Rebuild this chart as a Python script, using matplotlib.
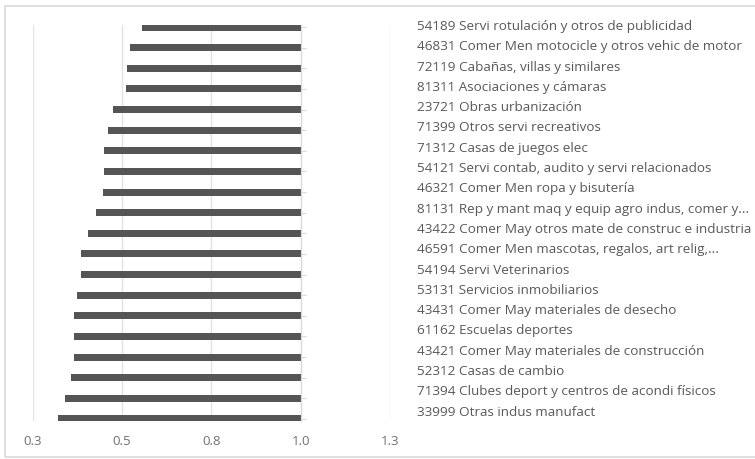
import matplotlib
matplotlib.use('Agg')
import matplotlib.pyplot as plt
from matplotlib.patches import Rectangle

# categorias (de arriba hacia abajo) y valores
categorias = [
    '54189 Servi rotulación y otros de publicidad',
    '46831 Comer Men motocicle y otros vehic de motor',
    '72119 Cabañas, villas y similares',
    '81311 Asociaciones y cámaras',
    '23721 Obras urbanización',
    '71399 Otros servi recreativos',
    '71312 Casas de juegos elec',
    '54121 Servi contab, audito y servi relacionados',
    '46321 Comer Men ropa y bisutería',
    '81131 Rep y mant maq y equip agro indus, comer y...',
    '43422 Comer May otros mate de construc e industria',
    '46591 Comer Men mascotas, regalos, art relig,...',
    '54194 Servi Veterinarios',
    '53131 Servicios inmobiliarios',
    '43431 Comer May materiales de desecho',
    '61162 Escuelas deportes',
    '43421 Comer May materiales de construcción',
    '52312 Casas de cambio',
    '71394 Clubes deport y centros de acondi físicos',
    '33999 Otras indus manufact',
]
valores = [0.555, 0.521, 0.515, 0.512, 0.474, 0.460, 0.450, 0.450, 0.446, 0.426,
           0.406, 0.385, 0.385, 0.373, 0.366, 0.365, 0.365, 0.358, 0.340, 0.322]
base = 1.0
xticks = [0.25, 0.5, 0.75, 1.0, 1.25]
xtick_labels = ['0.3', '0.5', '0.8', '1.0', '1.3']

plt.rcParams['font.family'] = ['Open Sans', 'DejaVu Sans']

fig = plt.figure(figsize=(7.55, 4.59), dpi=100)
ax = fig.add_axes([0.0433, 0.0828, 0.4733, 0.8627])

pos = list(range(len(categorias)))
ax.barh(pos, [v - base for v in valores], left=base, height=0.34, color='#555555')

ax.set_xlim(0.25, 1.25)
ax.set_ylim(19.1, -0.1)
ax.set_xticks(xticks)
ax.set_xticklabels(xtick_labels)
ax.tick_params(axis='x', length=0, pad=10, labelsize=9.5, labelcolor='#707070')
ax.grid(axis='x', color='#e3e3e3', linewidth=1)
ax.set_axisbelow(True)

for s in ['top', 'right', 'bottom']:
    ax.spines[s].set_visible(False)
ax.spines['left'].set_position(('data', base))
ax.spines['left'].set_color('#d9d9d9')
ax.set_yticks(pos)
ax.set_yticklabels([])
ax.tick_params(axis='y', direction='in', length=3.5, color='#d9d9d9')

# etiquetas a la derecha
ax2 = ax.twinx()
ax2.set_ylim(19.51, 0.049)
ax2.set_yticks(pos)
ax2.set_yticklabels(categorias)
ax2.tick_params(axis='y', length=0, pad=19.5, labelsize=9.7, labelcolor='#595959')
for s in ax2.spines.values():
    s.set_visible(False)

fig.patches.append(Rectangle((5 / 755, 2 / 459), 1.0, 451 / 459, transform=fig.transFigure,
                             fill=False, edgecolor='#d9d9d9', linewidth=1.2))

fig.savefig('out.png', dpi=100)
